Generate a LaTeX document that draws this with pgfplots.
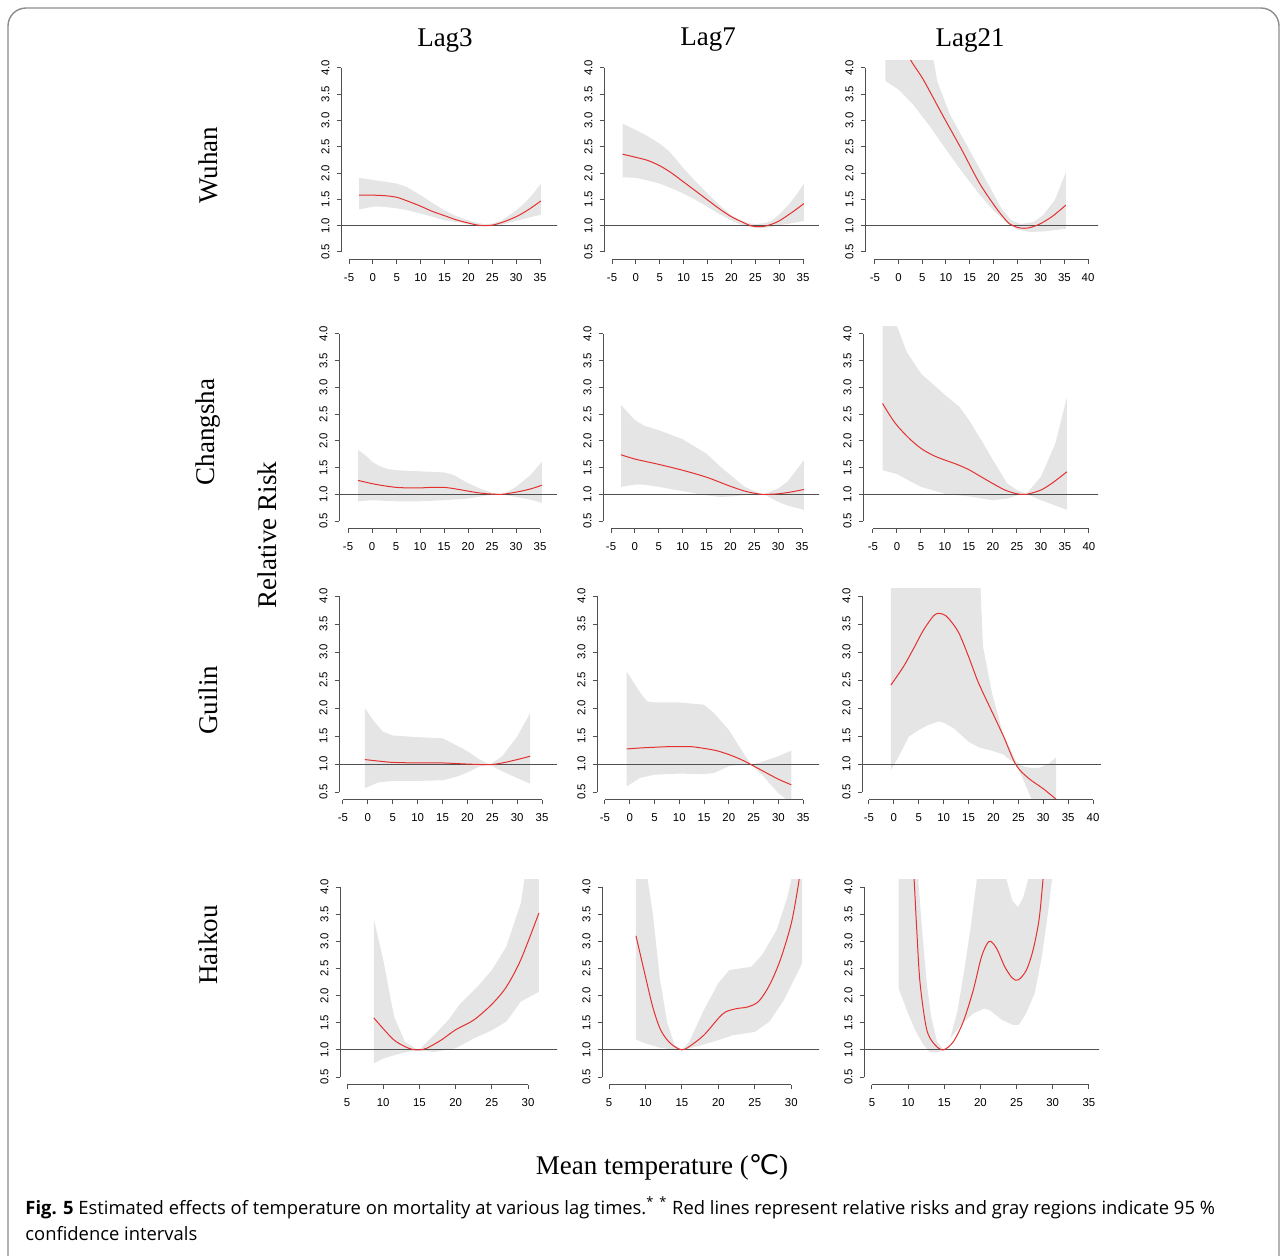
\documentclass[border=0pt]{standalone}
\usepackage{fontspec}
\setmainfont{Liberation Serif}
\newfontfamily\rsans{Liberation Sans}
\newfontfamily\capsans{Open Sans}
\newfontfamily\symf{DejaVu Sans}
\usepackage{pgfplots}
\pgfplotsset{compat=1.18}
\definecolor{bandgray}{RGB}{229,229,229}
\definecolor{rred}{RGB}{228,48,48}
\definecolor{axgray}{RGB}{80,80,80}

\pgfplotsset{
 rp/.style={
   scale only axis,
   anchor=north west,
   clip mode=individual,
   axis x line*=bottom, axis y line*=left,
   axis line style={draw=none},
   ymin=0.36, ymax=4.14,
   ytick={0.5,1,1.5,2,2.5,3,3.5,4},
   yticklabels={0.5,1.0,1.5,2.0,2.5,3.0,3.5,4.0},
   tick align=outside,
   major tick length=2.25pt,
   tick style={axgray, line width=0.5pt},
   tick label style={font=\rsans\fontsize{5.7}{6.5}\selectfont, text=black},
   yticklabel style={rotate=90, anchor=south},
   xticklabel style={anchor=north, yshift=-1.2pt},
 },
 xA/.style={xtick={-5,0,...,35}, xticklabels={-5,0,5,10,15,20,25,30,35}},
 xB/.style={xtick={-5,0,...,40}, xticklabels={-5,0,5,10,15,20,25,30,35,40}},
 xC/.style={xtick={5,10,...,30}, xticklabels={5,10,15,20,25,30}},
 xD/.style={xtick={5,10,...,35}, xticklabels={5,10,15,20,25,30,35}},
 band/.style={fill=bandgray, draw=none},
 rline/.style={rred, line width=0.5pt, smooth, tension=0.5},
 hl/.style={axgray, line width=0.55pt},
}
\newcommand{\yaxisline}{\draw[axgray, line width=0.5pt] (rel axis cs:0,0.037037) -- (rel axis cs:0,0.962963);}

\begin{document}
\begin{tikzpicture}
\begin{scope}[x=0.5pt,y=-0.5pt]
\useasboundingbox (0,0) rectangle (1287,1255);
\draw[black!45, line width=0.7pt, rounded corners=9] (8,1270) -- (8,8) -- (1279,8) -- (1279,1270);
\node[font=\fontsize{13.5}{16}\selectfont] at (445,40) {Lag3};
\node[font=\fontsize{13.5}{16}\selectfont] at (708,40) {Lag7};
\node[font=\fontsize{13.5}{16}\selectfont] at (970,40) {Lag21};
\node[rotate=90, font=\fontsize{13.5}{16}\selectfont] at (208,165) {Wuhan};
\node[rotate=90, font=\fontsize{13.5}{16}\selectfont] at (208,432) {Changsha};
\node[rotate=90, font=\fontsize{13.5}{16}\selectfont] at (208,700) {Guilin};
\node[rotate=90, font=\fontsize{13.5}{16}\selectfont] at (208,945) {Haikou};
\node[rotate=90, font=\fontsize{13.5}{16}\selectfont] at (267,535) {Relative Risk};
\node[font=\fontsize{13.5}{16}\selectfont] at (662,1167) {Mean temperature ({\symf ℃})};
\node[anchor=west, inner sep=0pt, font=\capsans\fontsize{9.2}{11}\selectfont] at (25,1208) {\textbf{Fig. 5} Estimated effects of temperature on mortality at various lag times.\textsuperscript{*} \textsuperscript{*} Red lines represent relative risks and gray regions indicate 95 \%};
\node[anchor=west, inner sep=0pt, font=\capsans\fontsize{9.2}{11}\selectfont] at (25,1234) {confidence intervals};
\end{scope}

% ===== Row 1: Wuhan =====
\begin{axis}[rp, xA, at={(170.5pt,-30.3pt)}, width=108pt, height=99.35pt, xmin=-6.68, xmax=38.56]
\addplot[band] coordinates {(-2.9,1.91) (0,1.87) (3,1.83) (5,1.80) (7,1.74) (10,1.58) (12.5,1.43) (15,1.29) (17.5,1.18) (20,1.10) (22,1.05) (23.5,1.03) (25,1.04) (27,1.10) (30,1.29) (32,1.45) (33.5,1.60) (35.2,1.80)
 (35.2,1.21) (33,1.16) (30,1.09) (27,1.02) (25,1.0) (23.5,0.99) (22,1.0) (20,1.03) (17.5,1.07) (15,1.10) (12.5,1.17) (10,1.23) (7,1.30) (5,1.33) (2,1.36) (0,1.36) (-2.9,1.31)} -- cycle;
\addplot[hl] coordinates {(-10,1) (45,1)};
\addplot[rline] coordinates {(-2.9,1.58) (0,1.58) (2.5,1.57) (5,1.54) (7.5,1.46) (10,1.37) (12.5,1.27) (15,1.19) (17.5,1.11) (20,1.05) (22,1.01) (23.5,1.0) (25,1.01) (27,1.06) (30,1.17) (32.5,1.30) (35.2,1.47)};
\draw[axgray, line width=0.5pt] (axis cs:-5,0.36) -- (axis cs:35,0.36);
\yaxisline
\end{axis}

\begin{axis}[rp, xA, at={(302pt,-30.3pt)}, width=107.5pt, height=99.35pt, xmin=-6.68, xmax=38.35]
\addplot[band] coordinates {(-2.8,2.94) (0,2.82) (2.5,2.70) (5,2.56) (7,2.41) (10,2.09) (12.5,1.84) (15,1.61) (17.5,1.39) (20,1.20) (22,1.10) (23.5,1.05) (25,1.03) (27,1.05) (28.5,1.10) (30,1.21) (32,1.40) (33.5,1.57) (35.2,1.80)
 (35.2,1.09) (33,1.05) (30,1.01) (28,0.97) (26,0.95) (24,0.97) (22,1.02) (20,1.10) (17.5,1.22) (15,1.36) (12.5,1.49) (10,1.61) (7.5,1.71) (5,1.80) (2.5,1.86) (0,1.91) (-2.8,1.92)} -- cycle;
\addplot[hl] coordinates {(-10,1) (45,1)};
\addplot[rline] coordinates {(-2.8,2.36) (0,2.30) (2.5,2.24) (5,2.14) (7.5,2.00) (10,1.83) (12.5,1.66) (15,1.49) (17.5,1.32) (20,1.17) (22.5,1.06) (24,1.00) (25.5,0.98) (27,0.99) (28.5,1.03) (30,1.09) (32.5,1.24) (35.2,1.42)};
\draw[axgray, line width=0.5pt] (axis cs:-5,0.36) -- (axis cs:35,0.36);
\yaxisline
\end{axis}

\begin{axis}[rp, xB, at={(432.5pt,-30.3pt)}, width=116.5pt, height=99.35pt, xmin=-7.1, xmax=42.1]
\addplot[band] coordinates {(-2.8,4.6) (3,4.45) (7.4,4.14) (8.15,3.75) (10.8,3.12) (14.7,2.48) (18.6,1.84) (21.7,1.33) (23.8,1.10) (25.9,1.03) (28.4,1.07) (30.5,1.20) (33,1.49) (35.3,2.01)
 (35.3,0.94) (30.5,0.89) (27.7,0.88) (24.9,0.93) (22.8,1.06) (20.0,1.29) (17.2,1.58) (13.6,2.0) (10.1,2.44) (6.6,2.89) (3.1,3.30) (0,3.59) (-2.8,3.75)} -- cycle;
\addplot[hl] coordinates {(-10,1) (45,1)};
\addplot[rline] coordinates {(-2.8,5.0) (0,4.6) (2.6,4.14) (5.2,3.78) (9.3,3.10) (13.3,2.45) (17.0,1.82) (20.4,1.36) (22.5,1.12) (23.5,1.03) (25,0.97) (26.5,0.95) (28,0.97) (30,1.04) (32.5,1.18) (35.3,1.39)};
\draw[axgray, line width=0.5pt] (axis cs:-5,0.36) -- (axis cs:40,0.36);
\yaxisline
\end{axis}

% ===== Row 2: Changsha =====
\begin{axis}[rp, xA, at={(169.5pt,-163.25pt)}, width=109pt, height=101pt, xmin=-6.88, xmax=38.54]
\addplot[band] coordinates {(-2.9,1.83) (-1,1.70) (0,1.61) (1.5,1.53) (3,1.48) (5,1.45) (10,1.43) (15,1.41) (17,1.36) (20,1.21) (23,1.09) (25,1.03) (27,1.0) (28.5,1.06) (30,1.14) (33,1.36) (35.4,1.61)
 (35.4,0.84) (33,0.90) (30,0.95) (27,1.0) (24,0.98) (20,0.92) (15,0.89) (10,0.87) (5,0.87) (0,0.89) (-2.9,0.87)} -- cycle;
\addplot[hl] coordinates {(-10,1) (45,1)};
\addplot[rline] coordinates {(-2.9,1.26) (0,1.20) (2.5,1.16) (5,1.13) (7.5,1.12) (10,1.12) (12.5,1.13) (15,1.13) (17.5,1.10) (20,1.06) (22,1.03) (24,1.01) (27,1.0) (30,1.04) (33,1.10) (35.4,1.17)};
\draw[axgray, line width=0.5pt] (axis cs:-5,0.36) -- (axis cs:35,0.36);
\yaxisline
\end{axis}

\begin{axis}[rp, xA, at={(301.5pt,-163.25pt)}, width=108pt, height=101pt, xmin=-6.68, xmax=38.56]
\addplot[band] coordinates {(-2.9,2.67) (0,2.39) (2,2.28) (5,2.20) (10,2.03) (15,1.76) (18,1.51) (20,1.36) (23,1.14) (25,1.06) (27,1.0) (30,1.11) (32,1.24) (35.4,1.64)
 (35.4,0.71) (32,0.79) (30,0.86) (27,1.0) (25,1.0) (20,0.96) (18,0.95) (15,0.98) (10,1.06) (5,1.14) (2,1.18) (0,1.18) (-2.9,1.14)} -- cycle;
\addplot[hl] coordinates {(-10,1) (45,1)};
\addplot[rline] coordinates {(-2.9,1.74) (0,1.66) (5,1.56) (10,1.45) (15,1.32) (20,1.15) (23,1.06) (25,1.02) (26.5,1.0) (28,1.0) (30,1.01) (32.5,1.04) (35.4,1.09)};
\draw[axgray, line width=0.5pt] (axis cs:-5,0.36) -- (axis cs:35,0.36);
\yaxisline
\end{axis}

\begin{axis}[rp, xB, at={(431.5pt,-163.25pt)}, width=117.5pt, height=101pt, xmin=-7.08, xmax=41.9]
\addplot[band] coordinates {(-3,4.6) (-1,4.4) (0,4.15) (2,3.67) (5,3.26) (10,2.86) (13,2.64) (15,2.39) (18,1.95) (20,1.64) (23,1.20) (25,1.08) (27,1.01) (30,1.33) (33,1.95) (35.4,2.81)
 (35.4,0.71) (33,0.79) (30,0.89) (27,1.01) (25,0.98) (23,0.92) (20,0.89) (15,0.96) (10,1.01) (5,1.14) (2,1.28) (0,1.38) (-3,1.45)} -- cycle;
\addplot[hl] coordinates {(-10,1) (45,1)};
\addplot[rline] coordinates {(-3,2.70) (-1.5,2.48) (0,2.29) (2.5,2.05) (5,1.86) (7.5,1.73) (10,1.64) (12.5,1.56) (15,1.46) (17.5,1.33) (20,1.20) (22.5,1.08) (25,1.01) (27,1.0) (30,1.08) (32.5,1.22) (35.4,1.42)};
\draw[axgray, line width=0.5pt] (axis cs:-5,0.36) -- (axis cs:40,0.36);
\yaxisline
\end{axis}

% ===== Row 3: Guilin =====
\begin{axis}[rp, xA, at={(169.5pt,-294.1pt)}, width=109pt, height=105.85pt, xmin=-5.8, xmax=38.0]
\addplot[band] coordinates {(-0.6,2.0) (1,1.79) (3,1.58) (5,1.51) (10,1.48) (15,1.46) (17,1.37) (20,1.23) (22.5,1.08) (24.5,0.99) (27,1.14) (30,1.49) (32.6,1.91)
 (32.6,0.65) (30,0.75) (27,0.87) (24.5,0.99) (22.5,0.96) (20,0.85) (18,0.78) (15,0.71) (10,0.70) (5,0.70) (2,0.67) (-0.6,0.57)} -- cycle;
\addplot[hl] coordinates {(-10,1) (45,1)};
\addplot[rline] coordinates {(-0.6,1.08) (2.5,1.05) (5,1.03) (10,1.02) (15,1.02) (20,1.0) (24.5,0.99) (27,1.02) (30,1.08) (32.6,1.14)};
\draw[axgray, line width=0.5pt] (axis cs:-5,0.36) -- (axis cs:35,0.36);
\yaxisline
\end{axis}

\begin{axis}[rp, xA, at={(298.5pt,-294.1pt)}, width=111pt, height=105.85pt, xmin=-6.6, xmax=38.2]
\addplot[band] coordinates {(-0.6,2.65) (2,2.29) (3.5,2.12) (5,2.10) (10,2.10) (15,2.06) (17,1.91) (20,1.61) (22.5,1.26) (24.5,0.99) (27,1.05) (30,1.14) (32.6,1.24)
 (32.6,0.30) (30,0.48) (27,0.78) (24.5,0.99) (22.5,1.0) (20,0.96) (17,0.84) (15,0.82) (10,0.83) (5,0.81) (2,0.75) (-0.6,0.60)} -- cycle;
\addplot[hl] coordinates {(-10,1) (45,1)};
\addplot[rline] coordinates {(-0.6,1.27) (2.5,1.29) (5,1.30) (7.5,1.31) (10,1.31) (12.5,1.31) (15,1.28) (17.5,1.24) (20,1.17) (22.5,1.08) (24.5,0.99) (27,0.87) (30,0.73) (32.6,0.63)};
\draw[axgray, line width=0.5pt] (axis cs:-5,0.36) -- (axis cs:35,0.36);
\yaxisline
\end{axis}

\begin{axis}[rp, xB, at={(431pt,-294.1pt)}, width=119.5pt, height=105.85pt, xmin=-6.4, xmax=41.6]
\addplot[band] coordinates {(-0.6,4.6) (10,4.6) (17.4,4.14) (17.9,3.10) (19.7,2.27) (21.9,1.55) (24.5,1.05) (26,0.96) (27.5,0.93) (29,0.93) (31,1.0) (32.6,1.12)
 (32.6,0.2) (28,0.2) (27.7,0.36) (26,0.72) (24.5,0.99) (22,1.17) (20,1.23) (17,1.30) (15,1.40) (12,1.64) (10,1.74) (9,1.76) (7,1.70) (5,1.61) (3,1.49) (1,1.14) (-0.6,0.89)} -- cycle;
\addplot[hl] coordinates {(-10,1) (45,1)};
\addplot[rline] coordinates {(-0.6,2.41) (2,2.75) (4,3.07) (6,3.40) (8,3.65) (9,3.69) (10,3.67) (11,3.60) (13,3.35) (15,2.92) (17,2.45) (20,1.88) (22,1.50) (24.5,0.99) (27,0.75) (30,0.56) (32.6,0.37)};
\draw[axgray, line width=0.5pt] (axis cs:-5,0.36) -- (axis cs:40,0.36);
\yaxisline
\end{axis}

% ===== Row 4: Haikou =====
\begin{axis}[rp, xC, at={(170pt,-439.7pt)}, width=108.5pt, height=102.6pt, xmin=4.03, xmax=34.0]
\addplot[band] coordinates {(8.7,3.41) (10,2.66) (11.5,1.61) (13,1.15) (14.5,1.02) (15,1.01) (17,1.27) (19,1.55) (20.5,1.83) (23,2.16) (25,2.47) (27,2.90) (29,3.70) (29.5,4.14) (31.5,4.6)
 (31.5,2.07) (29,1.89) (27,1.52) (25,1.36) (22.5,1.21) (20,1.03) (17,0.96) (15,0.99) (14,0.98) (12,0.92) (10,0.84) (8.7,0.75)} -- cycle;
\addplot[hl] coordinates {(0,1) (40,1)};
\addplot[rline] coordinates {(8.7,1.59) (10,1.39) (11.5,1.18) (13,1.06) (14,1.01) (15,1.0) (16,1.03) (18,1.18) (20,1.37) (22.5,1.55) (25,1.84) (27,2.16) (29,2.66) (31.5,3.52)};
\draw[axgray, line width=0.5pt] (axis cs:5,0.36) -- (axis cs:30,0.36);
\yaxisline
\end{axis}

\begin{axis}[rp, xC, at={(301pt,-439.7pt)}, width=108.5pt, height=102.6pt, xmin=4.04, xmax=33.8]
\addplot[band] coordinates {(8.7,4.6) (10.3,4.14) (11,3.52) (12,2.29) (13,1.49) (14,1.09) (15,1.0) (16,1.15) (18,1.73) (20,2.23) (21.5,2.47) (23,2.50) (24.5,2.53) (26,2.75) (28,3.21) (29.5,3.83) (30,4.14) (31.5,4.6)
 (31.5,2.60) (29,1.92) (27,1.52) (25,1.33) (22,1.27) (20,1.18) (17,1.06) (15,1.0) (14,1.0) (12,1.04) (10,1.12) (8.7,1.19)} -- cycle;
\addplot[hl] coordinates {(0,1) (40,1)};
\addplot[rline] coordinates {(8.7,3.10) (10,2.35) (11,1.79) (12,1.39) (13,1.18) (14,1.06) (15,1.0) (16,1.06) (18,1.27) (20,1.58) (21,1.70) (22.5,1.76) (24,1.79) (25.5,1.89) (27,2.19) (28.5,2.66) (30,3.33) (31,4.07) (31.5,4.6)};
\draw[axgray, line width=0.5pt] (axis cs:5,0.36) -- (axis cs:30,0.36);
\yaxisline
\end{axis}

\begin{axis}[rp, xD, at={(432pt,-439.7pt)}, width=117.5pt, height=102.6pt, xmin=3.9, xmax=36.4]
\addplot[band] coordinates {(8.7,4.6) (11.4,4.14) (12.0,3.1) (12.6,2.2) (13.2,1.6) (14.0,1.15) (14.9,1.0) (15.8,1.2) (16.8,1.7) (17.8,2.5) (18.7,3.3) (19.5,4.14) (21,4.6) (23,4.6) (23.6,4.14) (24.4,3.75) (25.2,3.63) (25.9,3.8) (26.6,4.14) (28,4.6) (31.5,6.0)
 (31.5,5.5) (29.9,4.14) (29.4,3.58) (28.5,2.72) (27.5,2.04) (26.3,1.67) (25.3,1.46) (24.5,1.46) (23,1.55) (21.3,1.73) (20.5,1.76) (19,1.67) (17.5,1.49) (16,1.24) (14.9,1.0) (14,0.95) (13,0.96) (12,1.12) (11,1.36) (10,1.67) (8.7,2.13)} -- cycle;
\addplot[hl] coordinates {(0,1) (40,1)};
\addplot[rline] coordinates {(10.5,4.8) (10.83,4.14) (11.2,3.2) (11.66,2.22) (12.58,1.37) (13.73,1.09) (14.88,1.0) (16.25,1.15) (17.63,1.52) (19.01,2.10) (20.16,2.72) (21.21,3.0) (22.23,2.87) (23.37,2.53) (24.43,2.32) (25.26,2.29) (26.36,2.47) (27.28,2.84) (28.11,3.40) (28.66,4.14) (29.0,4.6)};
\draw[axgray, line width=0.5pt] (axis cs:5,0.36) -- (axis cs:35,0.36);
\yaxisline
\end{axis}
\end{tikzpicture}
\end{document}
